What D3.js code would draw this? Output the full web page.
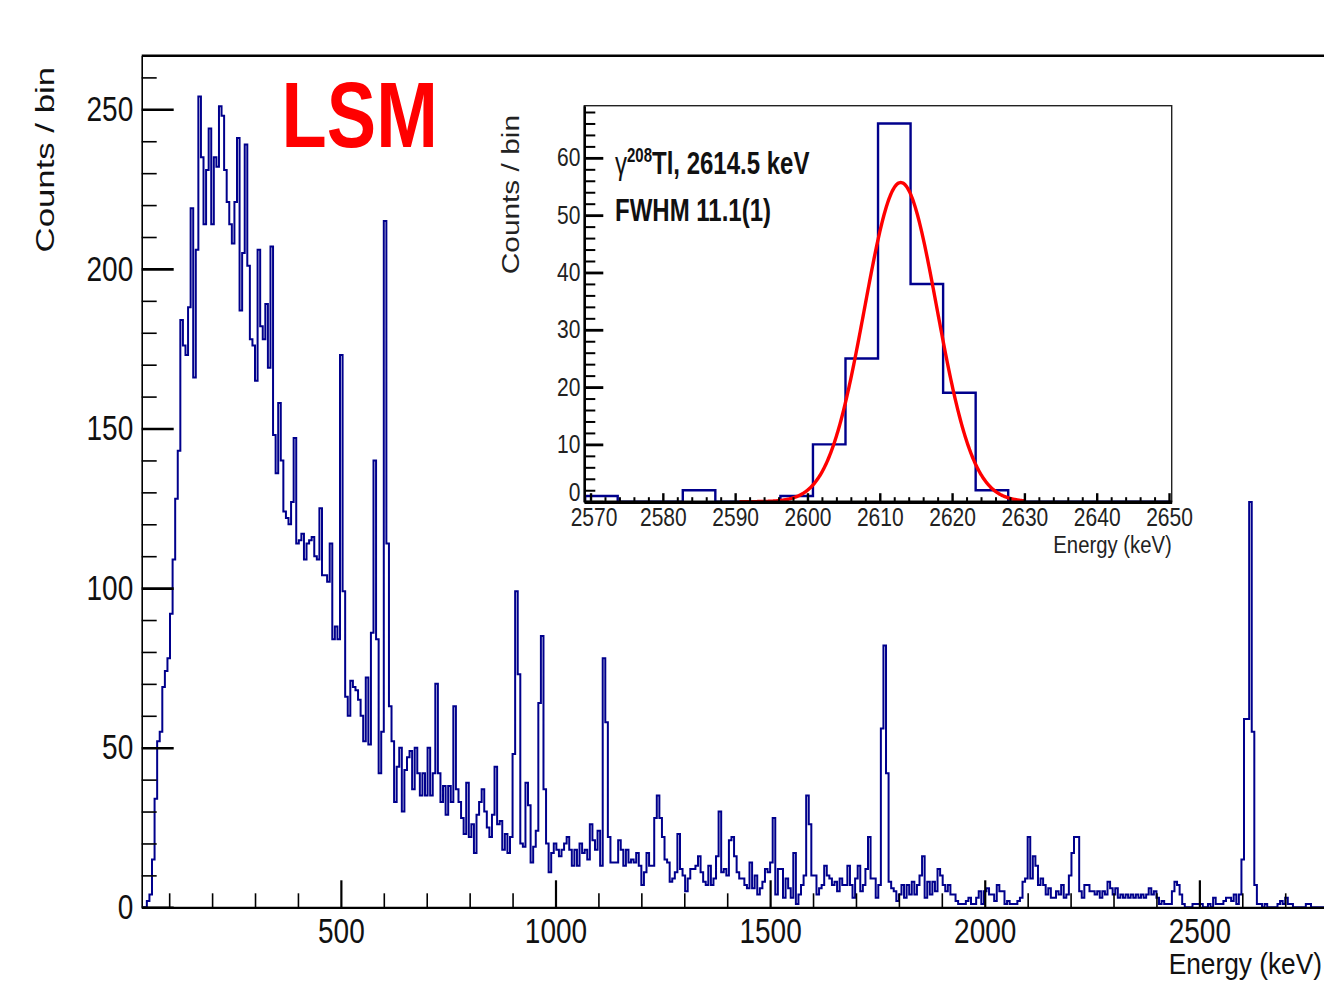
<!DOCTYPE html>
<html>
<head>
<meta charset="utf-8">
<script src="https://cdn.jsdelivr.net/npm/d3@7"></script>
<style>
  body { margin: 0; background: #fff; }
  svg { display: block; }
  text { font-family: "Liberation Sans", Arial, Helvetica, sans-serif; }
</style>
</head>
<body>
<div id="chart"></div>
<script>
// ---- main spectrum: 6 keV bins starting at 36 keV ----
const binStart = 36;
const binWidth = 6;
const counts = [
  0,0,2,4,15,34,52,55,69,74,
  78,92,109,128,143,184,176,173,188,219,
  166,206,254,235,214,231,244,214,235,232,
  251,248,231,221,214,208,221,241,187,205,
  239,201,178,176,165,206,182,178,189,169,
  207,148,136,158,140,124,122,120,127,147,
  114,115,117,109,114,115,116,110,109,125,
  104,104,102,114,84,88,84,173,99,66,
  60,71,69,68,65,60,52,72,51,86,
  140,84,42,55,215,114,63,52,33,44,
  50,30,43,47,49,37,50,42,35,42,
  35,50,35,42,70,42,33,38,29,38,
  33,63,37,33,28,23,39,22,26,17,
  29,33,37,30,25,22,29,44,26,27,
  18,23,17,22,48,99,73,20,19,39,
  32,14,19,24,64,85,37,20,11,17,
  20,18,16,18,20,22,18,13,18,13,
  20,17,18,15,26,21,18,24,13,78,
  58,22,14,14,14,21,18,13,18,14,
  15,14,17,13,7,11,17,13,13,28,
  35,28,22,15,14,8,9,11,23,12,
  10,5,9,12,12,13,16,11,8,7,
  13,7,9,16,30,11,12,10,21,22,
  16,11,9,9,7,6,14,6,10,4,
  6,8,12,11,14,28,4,12,12,3,
  9,6,3,17,1,4,7,10,35,26,
  10,10,4,6,7,13,10,9,7,8,
  5,9,7,7,13,7,3,9,13,5,
  7,12,22,9,9,3,7,56,82,42,
  8,6,5,2,4,7,3,7,4,8,
  4,7,10,16,3,8,4,8,5,12,
  10,7,5,7,4,4,2,1,1,1,
  2,3,1,1,3,5,1,5,6,4,
  4,2,7,5,5,1,2,1,1,1,
  2,3,8,9,22,9,16,13,7,9,
  7,4,6,3,3,5,4,7,3,4,
  10,17,22,22,5,3,7,7,5,5,
  4,5,3,5,4,8,6,4,6,3,
  4,3,4,3,4,3,4,3,4,3,
  4,6,4,5,3,1,2,1,1,1,
  5,8,7,4,1,0,0,0,1,1,
  1,1,0,0,1,0,3,1,1,1,
  2,3,3,2,4,1,4,15,59,59,
  127,55,7,1,1,0,1,0,0,0,
  0,1,2,1,3,1,1,0,0,0,
  0,0,1,1,0,0,0,0,0,0
];
const mainXTicks = [500, 1000, 1500, 2000, 2500];
const mainYTicks = [0, 50, 100, 150, 200, 250];

// ---- inset: 208Tl line, 4.5 keV bins ----
const insetBinStart = 2569.26;
const insetBinWidth = 4.5;
const insetCounts = [1,0,0,2,0,0,1,10,25,66,38,19,2,0,0,0,0,0];
const insetXTicks = [2570, 2580, 2590, 2600, 2610, 2620, 2630, 2640, 2650];
const insetYTicks = [0, 10, 20, 30, 40, 50, 60];
// gaussian fit parameters
const fitAmp = 55.7, fitMean = 2612.9, fitSigma = 5.0, fitFrom = 2590.6, fitTo = 2630;

const W = 1324, H = 982;
const histColor = "#00008c";
const fmt = d3.format("d");

const svg = d3.select("#chart").append("svg")
  .attr("width", W).attr("height", H);

function histPoints(start, w, vals) {
  const pts = [[start, 0]];
  vals.forEach((v, i) => pts.push([start + i * w, v]));
  pts.push([start + vals.length * w, vals[vals.length - 1]]);
  pts.push([start + vals.length * w, 0]);
  return pts;
}

// ================= main plot =================
const x = d3.scaleLinear().domain([36, 2802]).range([141.7, 1329]);
const y = d3.scaleLinear().domain([0, 266.8]).range([907.3, 55.7]);

svg.append("clipPath").attr("id", "mainClip")
  .append("rect").attr("x", x.range()[0]).attr("y", y.range()[1])
  .attr("width", x.range()[1] - x.range()[0]).attr("height", y.range()[0] - y.range()[1] + 2);

const line = d3.line().x(d => x(d[0])).y(d => y(d[1])).curve(d3.curveStepAfter);

svg.append("path")
  .attr("clip-path", "url(#mainClip)")
  .attr("d", line(histPoints(binStart, binWidth, counts)))
  .attr("fill", "none")
  .attr("stroke", histColor)
  .attr("stroke-width", 2);

// frame top line
svg.append("line")
  .attr("x1", x.range()[0]).attr("x2", x.range()[1])
  .attr("y1", y.range()[1]).attr("y2", y.range()[1])
  .attr("stroke", "#000").attr("stroke-width", 2.6);

// y axis
const yMinor = d3.range(0, 267, 10).filter(v => v % 50 !== 0);
svg.append("g")
  .attr("transform", `translate(${x.range()[0]},0)`)
  .call(d3.axisLeft(y).tickValues(yMinor).tickSize(-15).tickSizeOuter(0).tickFormat(""))
  .call(g => g.select(".domain").remove())
  .call(g => g.selectAll("line").attr("stroke-width", 1.6));

const yAxis = svg.append("g")
  .attr("transform", `translate(${x.range()[0]},0)`)
  .call(d3.axisLeft(y).tickValues(mainYTicks).tickFormat(fmt).tickSize(-32).tickSizeOuter(0).tickPadding(8.5));
yAxis.select(".domain").attr("stroke-width", 1.6);
yAxis.selectAll(".tick line").attr("stroke-width", 2.6);
yAxis.selectAll("text")
  .attr("font-family", "Liberation Sans, Arial, sans-serif")
  .attr("font-size", 28).attr("fill", "#111")
  .attr("transform", "scale(1,1.25)");

// x axis
const xMinor = d3.range(100, 2801, 100).filter(v => v % 500 !== 0);
svg.append("g")
  .attr("transform", `translate(0,${y.range()[0]})`)
  .call(d3.axisBottom(x).tickValues(xMinor).tickSize(-14).tickSizeOuter(0).tickFormat(""))
  .call(g => g.select(".domain").remove())
  .call(g => g.selectAll("line").attr("stroke-width", 1.6));

const xAxis = svg.append("g")
  .attr("transform", `translate(0,${y.range()[0]})`)
  .call(d3.axisBottom(x).tickValues(mainXTicks).tickFormat(fmt).tickSize(-27).tickSizeOuter(0));
xAxis.select(".domain").attr("stroke-width", 2.2);
xAxis.selectAll(".tick line").attr("stroke-width", 2.2);
xAxis.selectAll("text")
  .attr("font-family", "Liberation Sans, Arial, sans-serif")
  .attr("font-size", 28).attr("fill", "#111")
  .attr("y", 0).attr("dy", 0)
  .attr("transform", "translate(0,35.7) scale(1,1.25)");

// titles
svg.append("text")
  .attr("transform", "translate(53.5,67) scale(1,1.39) rotate(-90)")
  .attr("text-anchor", "end")
  .attr("font-size", 25).attr("fill", "#111")
  .text("Counts / bin");

svg.append("text")
  .attr("transform", "translate(1322,974) scale(1,1.1)")
  .attr("text-anchor", "end")
  .attr("font-size", 26.3).attr("fill", "#111")
  .text("Energy (keV)");

svg.append("text")
  .attr("transform", "translate(281.6,147) scale(1,1.26)")
  .attr("font-size", 74).attr("font-weight", "bold").attr("fill", "#ff0000")
  .text("LSM");

// ================= inset =================
const ix = d3.scaleLinear().domain([2569.14, 2650.37]).range([584.3, 1171.7]);
const iy = d3.scaleLinear().domain([0, 69.1]).range([501.7, 105.7]);

const inset = svg.append("g");
inset.append("rect")
  .attr("x", ix.range()[0]).attr("y", iy.range()[1])
  .attr("width", ix.range()[1] - ix.range()[0]).attr("height", iy.range()[0] - iy.range()[1])
  .attr("fill", "#fff").attr("stroke", "#222").attr("stroke-width", 1.4);

const iline = d3.line().x(d => ix(d[0])).y(d => iy(d[1])).curve(d3.curveStepAfter);
inset.append("path")
  .attr("d", iline(histPoints(insetBinStart, insetBinWidth, insetCounts)))
  .attr("fill", "none").attr("stroke", histColor).attr("stroke-width", 2.4);

const fitPts = d3.range(fitFrom, fitTo + 0.01, 0.1)
  .map(e => [e, fitAmp * Math.exp(-0.5 * Math.pow((e - fitMean) / fitSigma, 2))]);
inset.append("path")
  .attr("d", d3.line().x(d => ix(d[0])).y(d => iy(d[1]))(fitPts))
  .attr("fill", "none").attr("stroke", "#ff0000").attr("stroke-width", 3.4);

// inset y axis
const iyMinor = d3.range(0, 69, 2).filter(v => v % 10 !== 0);
inset.append("g")
  .attr("transform", `translate(${ix.range()[0]},0)`)
  .call(d3.axisLeft(iy).tickValues(iyMinor).tickSize(-11).tickSizeOuter(0).tickFormat(""))
  .call(g => g.select(".domain").remove())
  .call(g => g.selectAll("line").attr("stroke-width", 2));
const iyAxis = inset.append("g")
  .attr("transform", `translate(${ix.range()[0]},0)`)
  .call(d3.axisLeft(iy).tickValues(insetYTicks).tickFormat(fmt).tickSize(-19).tickSizeOuter(0).tickPadding(4));
iyAxis.select(".domain").attr("stroke-width", 2.4);
iyAxis.selectAll(".tick line").attr("stroke-width", 2.8);
iyAxis.selectAll("text")
  .attr("font-family", "Liberation Sans, Arial, sans-serif")
  .attr("font-size", 21).attr("fill", "#222")
  .attr("transform", "scale(1,1.2)");
// lift the "0" label so it does not sit on the first x label
iyAxis.selectAll(".tick").filter(d => d === 0).select("text")
  .attr("transform", "translate(0,-9) scale(1,1.2)");

// inset x axis
const ixMinor = d3.range(2570, 2651, 2).filter(v => v % 10 !== 0);
inset.append("g")
  .attr("transform", `translate(0,${iy.range()[0]})`)
  .call(d3.axisBottom(ix).tickValues(ixMinor).tickSize(-4.5).tickSizeOuter(0).tickFormat(""))
  .call(g => g.select(".domain").remove())
  .call(g => g.selectAll("line").attr("stroke-width", 2));
const ixAxis = inset.append("g")
  .attr("transform", `translate(0,${iy.range()[0]})`)
  .call(d3.axisBottom(ix).tickValues(insetXTicks).tickFormat(fmt).tickSize(-8.5).tickSizeOuter(0));
ixAxis.select(".domain").attr("stroke-width", 3.4);
ixAxis.selectAll(".tick line").attr("stroke-width", 2.4);
ixAxis.selectAll("text")
  .attr("font-family", "Liberation Sans, Arial, sans-serif")
  .attr("font-size", 21).attr("fill", "#222")
  .attr("y", 0).attr("dy", 0)
  .attr("transform", "translate(0,24) scale(1,1.22)");
ixAxis.selectAll(".tick").filter(d => d === 2570).select("text")
  .attr("transform", "translate(3,24) scale(1,1.22)");

// inset titles
inset.append("text")
  .attr("transform", "translate(519,115) scale(1,1.27) rotate(-90)")
  .attr("text-anchor", "end")
  .attr("font-size", 23.5).attr("fill", "#222")
  .text("Counts / bin");

inset.append("text")
  .attr("transform", "translate(1171.7,552.5) scale(1,1.15)")
  .attr("text-anchor", "end")
  .attr("font-size", 20.3).attr("fill", "#222")
  .text("Energy (keV)");

// inset annotations
const ann1 = inset.append("text")
  .attr("transform", "translate(615,174) scale(1,1.3)")
  .attr("font-size", 24).attr("font-weight", "bold").attr("fill", "#111");
ann1.append("tspan").attr("font-weight", "normal").text("γ");
ann1.append("tspan").attr("font-size", 15).attr("dy", -9).text("208");
ann1.append("tspan").attr("dy", 9).text("Tl, 2614.5 keV");

inset.append("text")
  .attr("transform", "translate(615,221) scale(1,1.3)")
  .attr("font-size", 24).attr("font-weight", "bold").attr("fill", "#111")
  .text("FWHM 11.1(1)");
</script>
</body>
</html>
